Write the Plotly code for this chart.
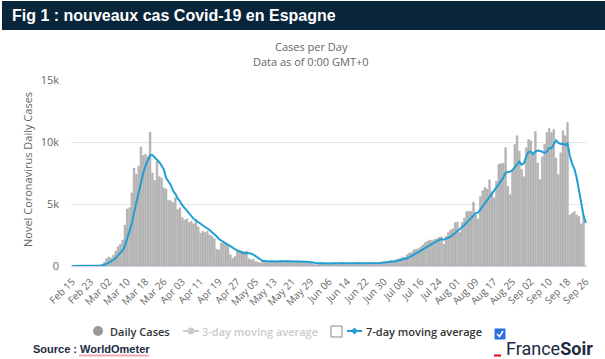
import pandas as pd
import plotly.graph_objects as go

# ---------------- data (daily new cases, Spain) ----------------
feb_cases = [2, 1, 3, 2, 4, 3, 5, 6, 8, 12, 20, 45, 80, 140, 300]  # Feb 15 - Feb 29
mar_cases = [600, 730, 650, 870, 1200, 1550, 1760, 2100, 3300, 4600,
             4700, 5900, 7900, 7400, 8050, 9600, 8900, 9000, 8800, 10800,
             7500, 6900, 8450, 7200, 7100, 6300, 6200, 5300, 5250, 5100, 5500]
apr_cases = [4550, 4700, 3900, 3700, 3800, 3500, 3600, 3400, 3750, 3150,
             2650, 2800, 2700, 2800, 2500, 2400, 2200, 1350, 1300, 1850,
             1850, 1800, 1700, 900, 620, 760, 1200, 1250, 1200, 1150]
may_cases = [1200, 600, 500, 550, 350, 300, 250, 400, 450, 350,
             300, 450, 400, 350, 300, 450, 400, 350, 450, 400,
             300, 350, 400, 380, 300, 350, 250, 200, 300, 150, 100]
jun_cases = [200, 250, 300, 200, 150, 250, 200, 200, 250, 150,
             200, 300, 200, 250, 200, 150, 250, 200, 300, 200,
             250, 200, 250, 250, 200, 300, 250, 300, 300, 350]
jul_cases = [300, 400, 450, 400, 500, 550, 600, 700, 700, 900,
             1050, 1100, 1300, 1350, 1400, 1550, 1700, 1900, 2000, 2100,
             2050, 2150, 2200, 2300, 2350, 1750, 2400, 2700, 2900, 3000, 3500]
aug_cases = [3550, 2700, 3500, 3850, 4400, 4400, 4400, 5150, 4100, 3800,
             5600, 6070, 6340, 6200, 6940, 6000, 5500, 6830, 8200, 8270,
             8270, 9540, 6420, 5750, 7640, 9800, 10500, 9270, 7780, 7200, 9540]
sep_cases = [10200, 10100, 9000, 10840, 8300, 6960, 8800, 9800, 10760, 11100,
             10760, 11000, 8700, 7370, 9130, 10900, 10500, 11570, 4100, 4250,
             4400, 4100, 4000, 3400, 4100, 0]  # Sep 1 - Sep 26

daily_cases = feb_cases + mar_cases + apr_cases + may_cases + jun_cases + jul_cases + aug_cases + sep_cases

dates = pd.date_range("2020-02-15", "2020-09-26", freq="D")
categories = [d.strftime("%b %d") for d in dates]
assert len(categories) == len(daily_cases)

# 7-day moving average (trailing), as defined by the legend
ma7 = pd.Series(daily_cases, dtype=float).rolling(7, min_periods=1).mean().tolist()

tick_labels = ["Feb 15", "Feb 23", "Mar 02", "Mar 10", "Mar 18", "Mar 26", "Apr 03", "Apr 11",
               "Apr 19", "Apr 27", "May 05", "May 13", "May 21", "May 29", "Jun 06", "Jun 14",
               "Jun 22", "Jun 30", "Jul 08", "Jul 16", "Jul 24", "Aug 01", "Aug 09", "Aug 17",
               "Aug 25", "Sep 02", "Sep 10", "Sep 18", "Sep 26"]
y_ticks = [0, 5000, 10000, 15000]
y_tick_text = ["0", "5k", "10k", "15k"]

# ---------------- geometry helpers ----------------
W_FIG, H_FIG = 605, 359
PL, PR, PT, PB = 71, 587, 80, 266
PW, PH = PR - PL, PB - PT


def px(x):
    return (x - PL) / PW


def py(y):
    return (PB - y) / PH


GRAY_TXT = "#666666"
BLUE = "#219ed3"
FONT = "Open Sans"

fig = go.Figure()
fig.add_trace(go.Bar(x=categories, y=daily_cases, name="Daily Cases",
                     marker=dict(color="#b9b9b9", line=dict(color="#8e8e8e", width=0.35)),
                     showlegend=False, hoverinfo="skip"))
fig.add_trace(go.Scatter(x=categories, y=ma7, mode="lines", name="7-day moving average",
                         line=dict(color=BLUE, width=2), showlegend=False, hoverinfo="skip"))

shapes = []
annotations = []

# header bar
shapes.append(dict(type="rect", xref="paper", yref="paper", x0=px(2), x1=px(605), y0=py(30), y1=py(1),
                   fillcolor="#08253a", line=dict(width=0), layer="above"))
annotations.append(dict(text="<b>Fig 1 : nouveaux cas Covid-19 en Espagne</b>", xref="paper", yref="paper",
                        x=px(10), y=py(15.5), xanchor="left", yanchor="middle", showarrow=False,
                        font=dict(family="Liberation Sans", size=16, color="white")))

# chart title / subtitle
annotations.append(dict(text="Cases per Day", xref="paper", yref="paper", x=px(311), y=py(47),
                        xanchor="center", yanchor="middle", showarrow=False,
                        font=dict(family=FONT, size=11, color=GRAY_TXT)))
annotations.append(dict(text="Data as of 0:00 GMT+0", xref="paper", yref="paper", x=px(311), y=py(61),
                        xanchor="center", yanchor="middle", showarrow=False,
                        font=dict(family=FONT, size=11, color=GRAY_TXT)))

# y axis title
annotations.append(dict(text="Novel Coronavirus Daily Cases", xref="paper", yref="paper", x=px(27), y=py(170),
                        xanchor="center", yanchor="middle", showarrow=False, textangle=-90,
                        font=dict(family=FONT, size=11, color=GRAY_TXT)))

# ---------------- custom legend ----------------
LY = 331
shapes.append(dict(type="circle", xref="paper", yref="paper", x0=px(93), x1=px(103), y0=py(LY + 5), y1=py(LY - 5),
                   fillcolor="#999999", line=dict(width=0)))
annotations.append(dict(text="Daily Cases", xref="paper", yref="paper", x=px(108), y=py(LY),
                        xanchor="left", yanchor="middle", showarrow=False,
                        font=dict(family=FONT, size=11, color="#333333", weight=600)))
shapes.append(dict(type="line", xref="paper", yref="paper", x0=px(183), x1=px(199), y0=py(LY), y1=py(LY),
                   line=dict(color="#cccccc", width=2)))
shapes.append(dict(type="circle", xref="paper", yref="paper", x0=px(187.5), x1=px(194.5), y0=py(LY + 3.5),
                   y1=py(LY - 3.5), fillcolor="#cccccc", line=dict(width=0)))
annotations.append(dict(text="3-day moving average", xref="paper", yref="paper", x=px(200), y=py(LY),
                        xanchor="left", yanchor="middle", showarrow=False,
                        font=dict(family=FONT, size=11, color="#cccccc", weight=600)))
shapes.append(dict(type="rect", xref="paper", yref="paper", x0=px(331), x1=px(342), y0=py(337), y1=py(326),
                   fillcolor="white", line=dict(color="#8a8a8a", width=1)))
shapes.append(dict(type="line", xref="paper", yref="paper", x0=px(347), x1=px(362), y0=py(LY), y1=py(LY),
                   line=dict(color=BLUE, width=2)))
shapes.append(dict(type="path", xref="paper", yref="paper",
                   path="M %f,%f L %f,%f L %f,%f L %f,%f Z" % (px(354.5), py(LY - 3.5), px(358), py(LY),
                                                                 px(354.5), py(LY + 3.5), px(351), py(LY)),
                   fillcolor=BLUE, line=dict(width=0)))
annotations.append(dict(text="7-day moving average", xref="paper", yref="paper", x=px(364), y=py(LY),
                        xanchor="left", yanchor="middle", showarrow=False,
                        font=dict(family=FONT, size=11, color="#333333", weight=600)))
# checked checkbox
shapes.append(dict(type="rect", xref="paper", yref="paper", x0=px(495), x1=px(505), y0=py(339), y1=py(329),
                   fillcolor="#2b6fe0", line=dict(color="#2b6fe0", width=1)))
shapes.append(dict(type="path", xref="paper", yref="paper",
                   path="M %f,%f L %f,%f L %f,%f" % (px(497), py(334), px(499.5), py(336.5), px(503), py(331)),
                   line=dict(color="white", width=1.6)))

# FranceSoir logo
shapes.append(dict(type="rect", xref="paper", yref="paper", x0=px(494), x1=px(501), y0=py(356.5), y1=py(354.5),
                   fillcolor="#e3001b", line=dict(width=0)))
annotations.append(dict(text="France<b>Soir</b>", xref="paper", yref="paper", x=px(504), y=py(348),
                        xanchor="left", yanchor="middle", showarrow=False,
                        font=dict(family="Roboto", size=18, color="#1b2940")))

# Source
annotations.append(dict(text="<b>Source : WorldOmeter</b>", xref="paper", yref="paper", x=px(31), y=py(349),
                        xanchor="left", yanchor="middle", showarrow=False,
                        font=dict(family="Liberation Sans", size=11, color="#1b2a45")))
shapes.append(dict(type="line", xref="paper", yref="paper", x0=px(79), x1=px(149), y0=py(355.5), y1=py(355.5),
                   line=dict(color="#f3a9b4", width=2)))

fig.update_layout(
    width=W_FIG, height=H_FIG, autosize=False,
    margin=dict(l=PL, r=W_FIG - PR, t=PT, b=H_FIG - PB, pad=0),
    paper_bgcolor="white", plot_bgcolor="white",
    bargap=0.25, showlegend=False,
    shapes=shapes, annotations=annotations,
    font=dict(family=FONT, color=GRAY_TXT),
    xaxis=dict(type="category", range=[-0.5, len(categories) - 0.5], tickmode="array",
               tickvals=tick_labels, ticktext=tick_labels, tickangle=-45,
               tickfont=dict(family=FONT, size=10, color=GRAY_TXT), showgrid=False, zeroline=False,
               showline=True, linecolor="#ccd6eb", linewidth=1, ticks="", ticklabelstandoff=5),
    yaxis=dict(range=[0, 15000], tickmode="array", tickvals=y_ticks, ticktext=y_tick_text,
               tickfont=dict(family=FONT, size=11, color=GRAY_TXT), showgrid=True, gridcolor="#e6e6e6",
               gridwidth=1, zeroline=False, showline=False, ticks="", ticklabelstandoff=11),
)

fig.write_html("out.html", config={"displayModeBar": False},
               post_script="document.body.style.margin='0';document.body.style.padding='0';")
